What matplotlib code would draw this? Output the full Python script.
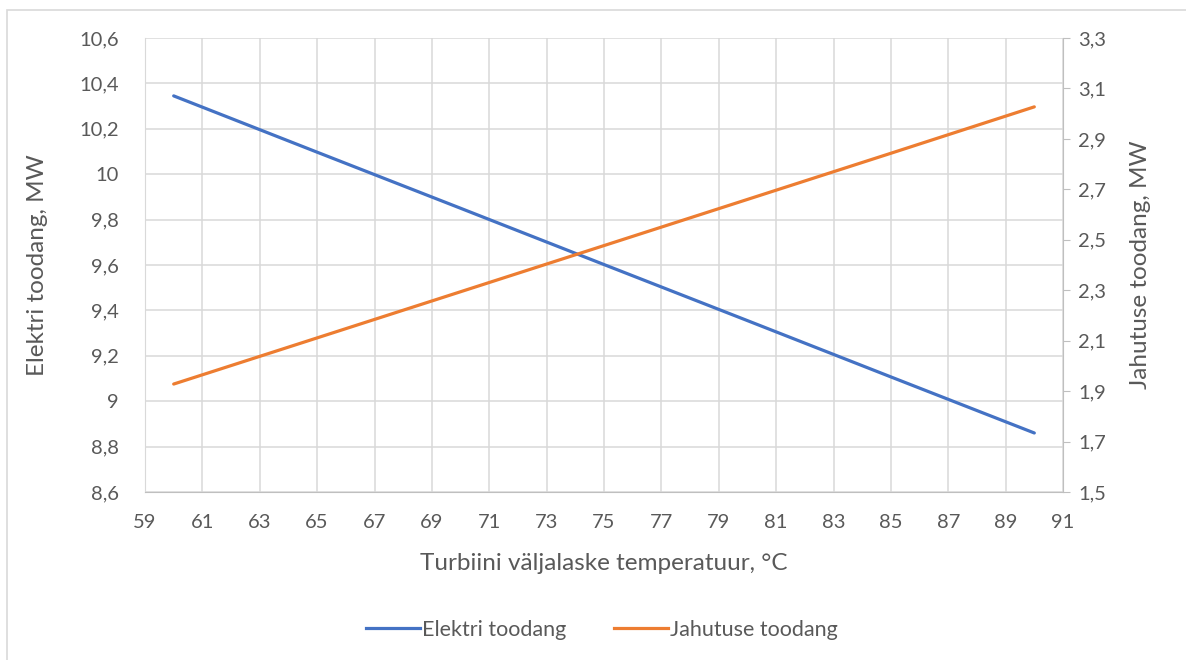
import matplotlib
matplotlib.use("Agg")
import matplotlib.pyplot as plt
from matplotlib.ticker import FuncFormatter
from matplotlib.patches import Rectangle
from matplotlib.lines import Line2D

temperature = [60, 65, 70, 75, 80, 85, 90]
elektri = [10.345, 10.097, 9.850, 9.602, 9.355, 9.107, 8.860]
jahutuse = [1.928, 2.111, 2.294, 2.477, 2.660, 2.843, 3.027]

x_ticks = list(range(59, 92, 2))
left_ticks = [8.6, 8.8, 9.0, 9.2, 9.4, 9.6, 9.8, 10.0, 10.2, 10.4, 10.6]
right_ticks = [1.5, 1.7, 1.9, 2.1, 2.3, 2.5, 2.7, 2.9, 3.1, 3.3]

BLUE = "#4472C4"
ORANGE = "#ED7D31"
TXT = "#595959"
GRID = "#D9D9D9"

plt.rcParams['font.family'] = ['Lato', 'DejaVu Sans']

fig = plt.figure(figsize=(11.86, 6.6), dpi=100)
W, H = 1186, 660
ax = fig.add_axes([145 / W, 1 - 492 / H, (1063 - 145) / W, (492 - 38) / H])
ax2 = ax.twinx()

# border
fig.patches.append(Rectangle((7 / W, -0.01), 1.0, 1 - 10 / H + 0.01, transform=fig.transFigure,
                             fill=False, edgecolor=GRID, linewidth=1.2))

ax.plot(temperature, elektri, color=BLUE, linewidth=2.3, solid_capstyle='round')
ax2.plot(temperature, jahutuse, color=ORANGE, linewidth=2.3, solid_capstyle='round')

ax.set_xlim(59, 91)
ax.set_ylim(8.6, 10.6)
ax2.set_ylim(1.5, 3.3)
ax.set_xticks(x_ticks)
ax.set_yticks(left_ticks)
ax2.set_yticks(right_ticks)

fmt = FuncFormatter(lambda v, p: ("%g" % round(v, 2)).replace('.', ','))
ax.yaxis.set_major_formatter(fmt)
ax2.yaxis.set_major_formatter(fmt)

ax.grid(True, color=GRID, linewidth=1.1)
ax.set_axisbelow(True)
for a in (ax, ax2):
    for s in a.spines.values():
        s.set_visible(False)
ax.spines['bottom'].set_visible(True)
ax.spines['bottom'].set_color("#BFBFBF")
ax.spines['left'].set_visible(True)
ax.spines['left'].set_color("#D9D9D9")
ax2.spines['right'].set_visible(True)
ax2.spines['right'].set_color("#BFBFBF")

ax.tick_params(axis='y', length=0, labelsize=14.5, labelcolor=TXT, pad=19)
ax.tick_params(axis='x', length=0, labelsize=14.5, labelcolor=TXT, pad=16)
ax2.tick_params(axis='y', length=5, color="#BFBFBF", labelsize=14.5, labelcolor=TXT, pad=6)

ax.set_xlabel("Turbiini väljalaske temperatuur, °C", fontsize=17.5, color=TXT, labelpad=16)
ax.set_ylabel("Elektri toodang, MW", fontsize=17.5, color=TXT, labelpad=22)
ax2.set_ylabel("Jahutuse toodang, MW", fontsize=17.5, color=TXT, labelpad=17)

handles = [Line2D([], [], color=BLUE, linewidth=2.3), Line2D([], [], color=ORANGE, linewidth=2.3)]
fig.legend(handles, ["Elektri toodang", "Jahutuse toodang"], loc='center', bbox_to_anchor=(602 / W, 1 - 630 / H),
           ncol=2, frameon=False, fontsize=15.5, labelcolor=TXT, handlelength=2.5, handletextpad=0.1,
           columnspacing=2.2)

fig.savefig("out.png", dpi=100)
